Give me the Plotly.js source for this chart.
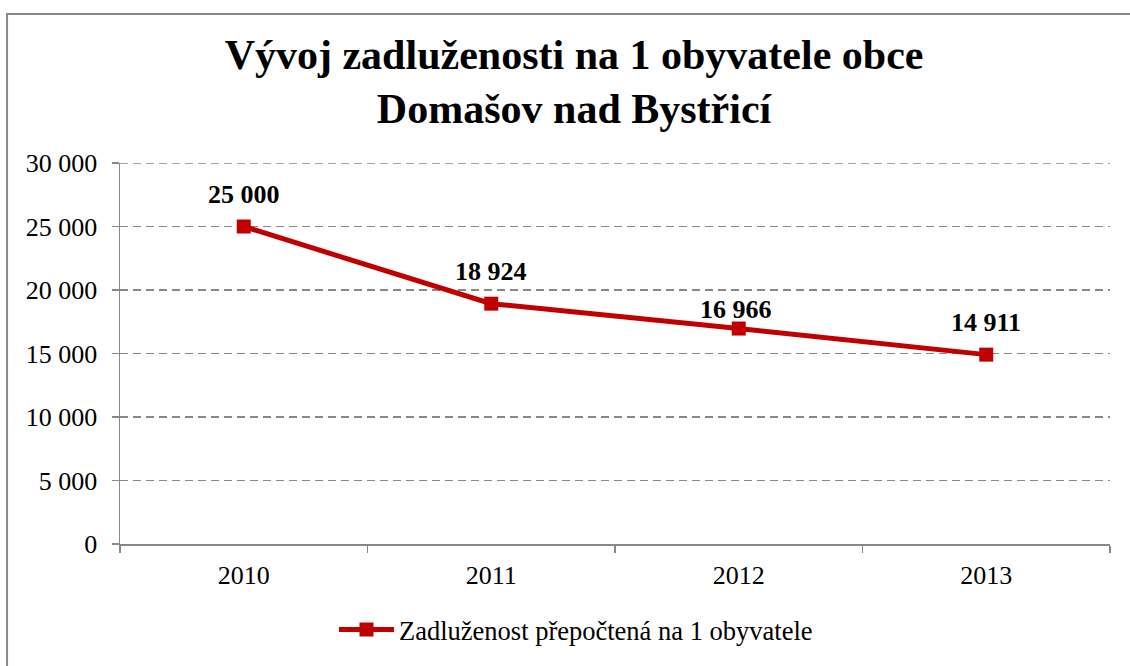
<!DOCTYPE html>
<html>
<head>
<meta charset="utf-8">
<script src="https://cdn.plot.ly/plotly-3.0.1.min.js"></script>
<style>
html,body{margin:0;padding:0;background:#fff;}
#chart{width:1130px;height:666px;}
</style>
</head>
<body>
<div id="chart"></div>
<script>
const years = ['2010', '2011', '2012', '2013'];
const debtPerCapita = [25000, 18924, 16966, 14911];
const seriesName = 'Zadluženost přepočtená na 1 obyvatele';
const titleText = 'Vývoj zadluženosti na 1 obyvatele obce<br>Domašov nad Bystřicí';
const yTicks = [0, 5000, 10000, 15000, 20000, 25000, 30000];

// label vertical offsets in pixels (style only)
const labelShift = [32, 32, 19, 32];

const serif = '"Liberation Serif", "Times New Roman", serif';
const red = '#C00000';
const gray = '#888888';

function fmt(v) {
  return String(v).replace(/\B(?=(\d{3})+(?!\d))/g, ' ');
}

const trace = {
  x: years,
  y: debtPerCapita,
  type: 'scatter',
  mode: 'lines+markers',
  name: seriesName,
  line: {color: red, width: 5},
  marker: {symbol: 'square', size: 14, color: red},
  cliponaxis: false,
  hoverinfo: 'x+y'
};

// annotations on a category axis use the category index
const annotations = years.map((yr, i) => ({
  x: i,
  y: debtPerCapita[i],
  xref: 'x', yref: 'y',
  text: '<b>' + fmt(debtPerCapita[i]) + '</b>',
  showarrow: false,
  xanchor: 'center', yanchor: 'middle',
  yshift: labelShift[i],
  xshift: i === 2 ? -3 : 0,
  font: {family: serif, size: 26, color: '#000'}
}));

const yTop = yTicks[yTicks.length - 1];

const layout = {
  width: 1130,
  height: 666,
  margin: {l: 120, r: 20, t: 163, b: 117},
  paper_bgcolor: '#fff',
  plot_bgcolor: '#fff',
  separators: ', ',
  font: {family: serif, size: 26, color: '#000'},
  title: {
    text: titleText,
    font: {family: serif, size: 42, weight: 'bold', color: '#000'},
    xref: 'container', x: 0.508, xanchor: 'center',
    yref: 'container', y: 0.897, yanchor: 'top'
  },
  xaxis: {
    type: 'category',
    range: [-0.5, 3.5],
    showgrid: false,
    showline: true, linecolor: gray, linewidth: 1.5,
    ticks: 'outside', ticklen: 7, tickcolor: gray, tickwidth: 1.5,
    tickson: 'boundaries',
    tickfont: {family: serif, size: 26, color: '#000'},
    ticklabelstandoff: 7,
    zeroline: false,
    fixedrange: true
  },
  yaxis: {
    range: [0, yTop],
    tickvals: yTicks,
    tickformat: ',d',
    showgrid: true, gridcolor: gray, gridwidth: 1.5, griddash: '8px,5px',
    showline: true, linecolor: gray, linewidth: 1.5,
    ticks: 'outside', ticklen: 7, tickcolor: gray, tickwidth: 1.5,
    tickfont: {family: serif, size: 26, color: '#000'},
    ticklabelstandoff: 9,
    zeroline: false,
    fixedrange: true
  },
  showlegend: true,
  legend: {
    orientation: 'h',
    x: 0.4606, xanchor: 'center',
    y: -0.225, yanchor: 'middle',
    font: {family: serif, size: 26.5, color: '#000'},
    itemwidth: 55,
    bgcolor: 'rgba(0,0,0,0)'
  },
  annotations: annotations,
  shapes: [
    {
      type: 'line', xref: 'paper', yref: 'y',
      x0: 0, x1: 1, y0: yTop, y1: yTop,
      line: {color: gray, width: 1.5, dash: '8px,5px'}, layer: 'below'
    },
    {
      type: 'rect', xref: 'paper', yref: 'paper',
      x0: -0.1141, x1: 1.0303, y0: -0.339, y1: 1.3912,
      line: {color: gray, width: 2}, fillcolor: 'rgba(0,0,0,0)', layer: 'below'
    }
  ]
};

Plotly.newPlot('chart', [trace], layout, {displayModeBar: false, staticPlot: true});
</script>
</body>
</html>
